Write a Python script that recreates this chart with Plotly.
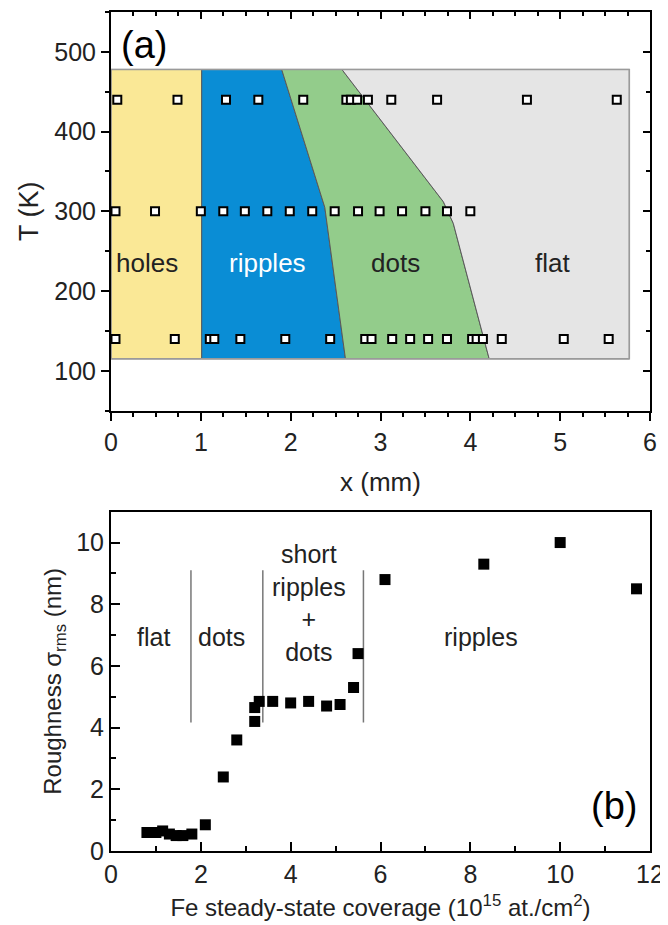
import plotly.graph_objects as go

# ---------------- data: panel (a) ----------------
T_rows = [440, 300, 140]
x_row440 = [0.07, 0.74, 1.28, 1.64, 2.14, 2.62, 2.67, 2.74, 2.86, 3.12, 3.63, 4.63, 5.63]
x_row300 = [0.05, 0.49, 1.0, 1.25, 1.49, 1.74, 1.99, 2.24, 2.49, 2.75, 2.99, 3.24, 3.50, 3.74, 4.0]
x_row140 = [0.05, 0.71, 1.10, 1.15, 1.44, 1.94, 2.44, 2.83, 2.90, 3.13, 3.33, 3.53, 3.74,
            4.02, 4.07, 4.14, 4.35, 5.04, 5.54]

# phase region boundaries (x in mm, T in K)
T_low, T_high = 115, 478
x_left, x_right = 0.0, 5.77
holes_ripples_x = 1.01
ripples_dots_x = [1.90, 2.38, 2.61]
ripples_dots_T = [478, 305, 115]
dots_flat_x = [2.57, 3.70, 3.81, 4.21]
dots_flat_T = [478, 312, 285, 115]

region_names = ["holes", "ripples", "dots", "flat"]
region_label_x = [0.40, 1.74, 3.17, 4.92]
region_label_T = 235

# ---------------- data: panel (b) ----------------
coverage = [0.8, 1.0, 1.15, 1.3, 1.45, 1.6, 1.8, 2.1, 2.5, 2.8, 3.2, 3.2, 3.3, 3.6,
            4.0, 4.4, 4.8, 5.1, 5.4, 5.5, 6.1, 8.3, 10.0, 11.7]
roughness = [0.6, 0.6, 0.65, 0.55, 0.5, 0.5, 0.55, 0.85, 2.4, 3.6, 4.2, 4.65, 4.85, 4.85,
             4.8, 4.85, 4.7, 4.75, 5.3, 6.4, 8.8, 9.3, 10.0, 8.5]
sep_x = [1.78, 3.38, 5.62]
sep_lo, sep_hi = 4.17, 9.1

FONT = "Arial, Liberation Sans, sans-serif"
YELLOW = "#FAE896"
BLUE = "#0A8DD5"
GREEN = "#93CC8B"
GRAY = "#E5E5E5"
EDGE = "#5a5a5a"

fig = go.Figure()

def poly(xs, ys, color):
    fig.add_trace(go.Scatter(x=xs, y=ys, fill="toself", fillcolor=color, mode="lines",
                             line=dict(color=EDGE, width=1), hoverinfo="skip",
                             showlegend=False, xaxis="x", yaxis="y"))

# holes
poly([x_left, holes_ripples_x, holes_ripples_x, x_left, x_left],
     [T_low, T_low, T_high, T_high, T_low], YELLOW)
# ripples
poly([holes_ripples_x] + ripples_dots_x + [holes_ripples_x, holes_ripples_x],
     [T_high] + ripples_dots_T + [T_low, T_high], BLUE)
# dots
poly(ripples_dots_x + dots_flat_x[::-1] + [ripples_dots_x[0]],
     ripples_dots_T + dots_flat_T[::-1] + [ripples_dots_T[0]], GREEN)
# flat
poly(dots_flat_x + [x_right, x_right, dots_flat_x[0]],
     dots_flat_T + [T_low, T_high, T_high], GRAY)

# outer border of the map
fig.add_trace(go.Scatter(x=[x_left, x_right, x_right, x_left, x_left],
                         y=[T_low, T_low, T_high, T_high, T_low], mode="lines",
                         line=dict(color="#9a9a9a", width=1.5), hoverinfo="skip",
                         showlegend=False, xaxis="x", yaxis="y"))

for T, xs in zip(T_rows, [x_row440, x_row300, x_row140]):
    fig.add_trace(go.Scatter(x=xs, y=[T] * len(xs), mode="markers",
                             marker=dict(symbol="square", size=8, color="white",
                                         line=dict(color="black", width=2)),
                             cliponaxis=False, showlegend=False, xaxis="x", yaxis="y"))

# dummy traces to activate mirror tick axes
fig.add_trace(go.Scatter(x=[None], y=[None], xaxis="x3", yaxis="y", showlegend=False))
fig.add_trace(go.Scatter(x=[None], y=[None], xaxis="x", yaxis="y3", showlegend=False))

# panel (b)
for sx in sep_x:
    fig.add_trace(go.Scatter(x=[sx, sx], y=[sep_lo, sep_hi], mode="lines",
                             line=dict(color="#777777", width=1.5), hoverinfo="skip",
                             showlegend=False, xaxis="x2", yaxis="y2"))
fig.add_trace(go.Scatter(x=coverage, y=roughness, mode="markers",
                         marker=dict(symbol="square", size=11, color="black"),
                         cliponaxis=False, showlegend=False, xaxis="x2", yaxis="y2"))

TF = dict(family=FONT, size=25, color="#222")
common = dict(showgrid=False, zeroline=False, showline=True, linecolor="black",
              linewidth=2, tickcolor="black", tickwidth=2, tickfont=TF, automargin=False)

# the page body adds an 8px offset, so the figure is 8px smaller on each side
fig.update_layout(
    width=660, height=917,
    margin=dict(l=103, r=18, t=4, b=74),
    paper_bgcolor="white", plot_bgcolor="white",
    font=dict(family=FONT),
    xaxis=dict(domain=[0, 1], anchor="y", range=[0, 6], dtick=1, tick0=0,
               ticks="outside", ticklen=8, mirror=True,
               minor=dict(dtick=0.25, ticks="outside", ticklen=4, tickwidth=2, tickcolor="black"),
               title=dict(text="x (mm)", font=dict(family=FONT, size=26, color="#222"), standoff=18),
               **common),
    yaxis=dict(domain=[0.5248, 1], anchor="x", range=[50, 550], dtick=100, tick0=0,
               ticks="outside", ticklen=8, mirror=True,
               minor=dict(dtick=50, ticks="outside", ticklen=4, tickwidth=2, tickcolor="black"),
               title=dict(text="T (K)", font=dict(family=FONT, size=27, color="#222"), standoff=8),
               **common),
    xaxis3=dict(overlaying="x", anchor="y", side="top", range=[0, 6], dtick=1, tick0=0,
                ticks="inside", ticklen=7, tickwidth=2, tickcolor="black",
                minor=dict(dtick=0.25, ticks="inside", ticklen=4, tickwidth=2, tickcolor="black"),
                showticklabels=False, showline=False, showgrid=False, zeroline=False),
    yaxis3=dict(overlaying="y", anchor="x", side="right", range=[50, 550], dtick=100, tick0=0,
                ticks="inside", ticklen=7, tickwidth=2, tickcolor="black",
                minor=dict(dtick=50, ticks="inside", ticklen=4, tickwidth=2, tickcolor="black"),
                showticklabels=False, showline=False, showgrid=False, zeroline=False),
    xaxis2=dict(domain=[0, 1], anchor="y2", range=[0, 12], dtick=2, tick0=0,
                ticks="inside", ticklen=9, mirror=True,
                minor=dict(dtick=1, ticks="inside", ticklen=5, tickwidth=2, tickcolor="black"),
                title=dict(text="Fe steady-state coverage (10<sup>15</sup> at./cm<sup>2</sup>)",
                           font=dict(family=FONT, size=24, color="#222"), standoff=12),
                **common),
    yaxis2=dict(domain=[0, 0.4044], anchor="x2", range=[0, 11], dtick=2, tick0=0,
                ticks="inside", ticklen=9, mirror=True,
                minor=dict(dtick=1, ticks="inside", ticklen=5, tickwidth=2, tickcolor="black"),
                title=dict(text="Roughness σ<sub>rms</sub> (nm)",
                           font=dict(family=FONT, size=24, color="#222"), standoff=8),
                **common),
)

ann = []
for name, lx in zip(region_names, region_label_x):
    ann.append(dict(x=lx, y=region_label_T, xref="x", yref="y", text=name, showarrow=False,
                    font=dict(family=FONT, size=26, color="white" if name == "ripples" else "#222")))
ann.append(dict(x=0.37, y=509, xref="x", yref="y", text="(a)", showarrow=False,
                font=dict(family=FONT, size=38, color="black")))
ann.append(dict(x=11.2, y=1.46, xref="x2", yref="y2", text="(b)", showarrow=False,
                font=dict(family=FONT, size=38, color="black")))
ann.append(dict(x=0.95, y=6.93, xref="x2", yref="y2", text="flat", showarrow=False,
                font=dict(family=FONT, size=25, color="#222")))
ann.append(dict(x=2.45, y=6.93, xref="x2", yref="y2", text="dots", showarrow=False,
                font=dict(family=FONT, size=25, color="#222")))
ann.append(dict(x=4.40, y=8.05, xref="x2", yref="y2",
                text="short<br>ripples<br>+<br>dots", showarrow=False,
                font=dict(family=FONT, size=25, color="#222")))
ann.append(dict(x=8.23, y=6.93, xref="x2", yref="y2", text="ripples", showarrow=False,
                font=dict(family=FONT, size=25, color="#222")))
fig.update_layout(annotations=ann)

fig.write_html("out.html")
